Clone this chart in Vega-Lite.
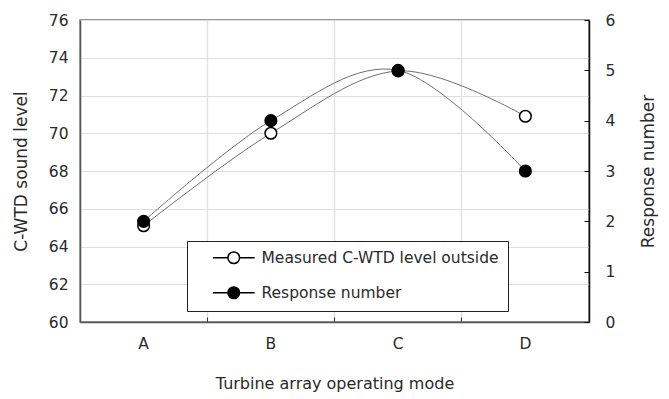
{
  "$schema": "https://vega.github.io/schema/vega-lite/v6.json",
  "width": 509,
  "height": 302,
  "autosize": "none",
  "padding": {"left": 80, "top": 20, "right": 80, "bottom": 77},
  "background": "white",
  "data": {
    "values": [
      {"mode": "A", "series": "Measured C-WTD level outside", "value": 65.1},
      {"mode": "B", "series": "Measured C-WTD level outside", "value": 70.0},
      {"mode": "C", "series": "Measured C-WTD level outside", "value": 73.3},
      {"mode": "D", "series": "Measured C-WTD level outside", "value": 70.9},
      {"mode": "A", "series": "Response number", "value": 2},
      {"mode": "B", "series": "Response number", "value": 4},
      {"mode": "C", "series": "Response number", "value": 5},
      {"mode": "D", "series": "Response number", "value": 3}
    ]
  },
  "encoding": {
    "x": {
      "field": "mode",
      "type": "ordinal",
      "scale": {"type": "band", "paddingInner": 0, "paddingOuter": 0},
      "axis": {
        "title": "Turbine array operating mode",
        "titleFontSize": 16,
        "titlePadding": 24,
        "labelAngle": 0,
        "labelFontSize": 15.5,
        "labelPadding": 19,
        "bandPosition": 0,
        "grid": true,
        "gridColor": "#e2e2e2",
        "gridWidth": 1.5,
        "tickSize": -5,
        "tickColor": "#333",
        "domainColor": "#555",
        "domainWidth": 1.5
      }
    }
  },
  "layer": [
    {
      "transform": [{"filter": "datum.series === 'Measured C-WTD level outside'"}],
      "encoding": {
        "y": {
          "field": "value",
          "type": "quantitative",
          "scale": {"domain": [60, 76]},
          "axis": {
            "title": "C-WTD sound level",
            "titleFontSize": 17,
            "titlePadding": 18,
            "values": [60, 62, 64, 66, 68, 70, 72, 74, 76],
            "labelFontSize": 15.5,
            "labelPadding": 12,
            "ticks": false,
            "grid": true,
            "gridColor": "#dedede",
            "domainColor": "#555",
            "domainWidth": 1.5
          }
        }
      },
      "layer": [
        {"mark": {"type": "line", "interpolate": "cardinal", "color": "#6e6e6e", "strokeWidth": 1}},
        {
          "mark": {"type": "point", "filled": true, "size": 135, "stroke": "black", "strokeWidth": 1.5, "opacity": 1},
          "encoding": {
            "fill": {
              "field": "series",
              "type": "nominal",
              "scale": {"domain": ["Measured C-WTD level outside", "Response number"], "range": ["white", "black"]},
              "legend": {
                "title": null,
                "orient": "none",
                "legendX": 107,
                "legendY": 221,
                "padding": 9,
                "symbolOffset": 30,
                "labelOffset": 20,
                "rowPadding": 16,
                "labelFontSize": 15.5,
                "labelLimit": 400,
                "symbolSize": 135,
                "symbolStrokeWidth": 1.5,
                "symbolType": "M-3.6,0H-1M1,0H3.6M1,0A1,1,0,1,1,-1,0A1,1,0,1,1,1,0Z",
                "strokeColor": "#222",
                "fillColor": "white",
                "encode": {"symbols": {"update": {"stroke": {"value": "black"}, "strokeWidth": {"value": 1.5}}}}
              }
            }
          }
        }
      ]
    },
    {
      "transform": [{"filter": "datum.series === 'Response number'"}],
      "encoding": {
        "y": {
          "field": "value",
          "type": "quantitative",
          "scale": {"domain": [0, 6]},
          "axis": {
            "orient": "right",
            "title": "Response number",
            "titleAngle": 270,
            "titleBaseline": "top",
            "titleFontSize": 17,
            "titlePadding": 26,
            "values": [0, 1, 2, 3, 4, 5, 6],
            "labelFontSize": 15.5,
            "labelPadding": 21,
            "tickSize": -5,
            "tickColor": "#111",
            "grid": false,
            "domainColor": "#111",
            "domainWidth": 1.5
          }
        }
      },
      "layer": [
        {"mark": {"type": "line", "interpolate": "cardinal", "color": "#6e6e6e", "strokeWidth": 1}},
        {
          "mark": {"type": "point", "filled": true, "size": 135, "stroke": "black", "strokeWidth": 1.5, "opacity": 1},
          "encoding": {"fill": {"field": "series", "type": "nominal"}}
        }
      ]
    }
  ],
  "resolve": {"scale": {"y": "independent"}},
  "config": {
    "font": "DejaVu Sans",
    "view": {"stroke": "#777", "strokeWidth": 1.5},
    "axis": {"labelColor": "#2a2a2a", "titleColor": "#2a2a2a", "titleFontWeight": "normal", "labelFont": "DejaVu Sans", "titleFont": "DejaVu Sans"},
    "legend": {"labelColor": "#2a2a2a", "labelFont": "DejaVu Sans"}
  }
}
